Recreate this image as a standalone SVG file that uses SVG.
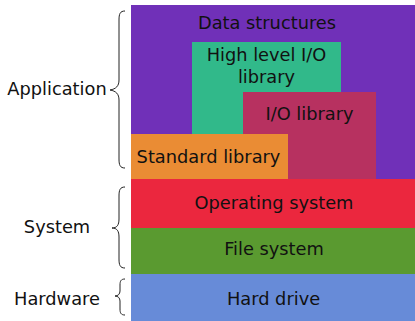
<svg xmlns="http://www.w3.org/2000/svg" width="415" height="321" viewBox="0 0 415 321">
  <style>
    text { font-family: "DejaVu Sans", sans-serif; font-size: 17.8px; fill: #111; text-anchor: middle; }
    .brace { fill: none; stroke: #222; stroke-width: 1; }
  </style>
  <rect width="415" height="321" fill="#fff"/>
  <g id="data-structures">
    <rect x="131" y="5" width="284" height="174" fill="#7030B8"/>
    <text x="267" y="29">Data structures</text>
  </g>
  <g id="high-level-io">
    <rect x="192" y="42" width="149" height="92" fill="#31B98A"/>
    <text x="266.5" y="61">High level I/O</text>
    <text x="266.5" y="82.5">library</text>
  </g>
  <g id="io-library">
    <rect x="243" y="92" width="133" height="87" fill="#B73160"/>
    <text x="309.5" y="120">I/O library</text>
  </g>
  <g id="standard-library">
    <rect x="131" y="134" width="157" height="45" fill="#EA8C34"/>
    <text x="208.5" y="162.5">Standard library</text>
  </g>
  <g id="operating-system">
    <rect x="131" y="179" width="284" height="49" fill="#EB273E"/>
    <text x="274" y="208.5">Operating system</text>
  </g>
  <g id="file-system">
    <rect x="131" y="228" width="284" height="46" fill="#5A9A30"/>
    <text x="274" y="255">File system</text>
  </g>
  <g id="hard-drive">
    <rect x="131" y="274" width="284" height="47" fill="#678BD8"/>
    <text x="273.5" y="304.5">Hard drive</text>
  </g>
  <g id="layer-labels">
    <text x="57" y="95">Application</text>
    <text x="57" y="233">System</text>
    <text x="57" y="304.5">Hardware</text>
  </g>
  <g id="connectors">
    <path class="brace" d="M125,11 C120,11 119,14 119,20 L119,80 C119,86 116,89 110,90 C116,91 119,94 119,100 L119,159 C119,165 120,168 125,168"/>
    <path class="brace" d="M125,187 C120,187 119,190 119,196 L119,219 C119,225 117,228 112,228 C117,228 119,231 119,237 L119,259 C119,265 120,268 125,268"/>
    <path class="brace" d="M125,279 C121,279 120,281 120,285 L120,291 C120,294 118,296 115,296 C118,296 120,298 120,301 L120,309 C120,313 121,315 125,315"/>
  </g>
</svg>
